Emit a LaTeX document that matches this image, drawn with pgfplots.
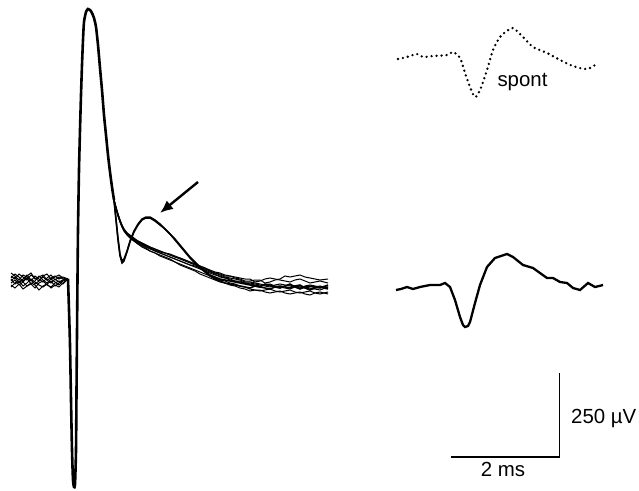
\documentclass[border=0pt]{standalone}
\usepackage{fontspec}
\setmainfont{Liberation Sans}
\usepackage{pgfplots}
\usepackage{pgfplotstable}
\pgfplotsset{compat=1.18}
\usetikzlibrary{arrows.meta}

% pixel-like coordinates, y grows downwards
\pgfplotstableread{
x  y1  y2  y3  y4  y5  y6  y7  y8
11 276 283 279 287 273 281 285 278
15 279 280 284 283 276 277 288 274
19 274 285 281 279 280 283 284 277
23 277 282 286 282 275 279 289 281
27 280 278 283 286 277 275 286 276
31 275 284 279 284 281 280 283 273
35 278 281 282 288 276 284 285 279
39 281 276 285 283 279 281 290 277
43 276 280 287 281 282 277 286 275
47 274 283 284 285 278 280 284 280
51 279 279 281 287 275 283 288 278
55 277 282 286 283 280 279 285 276
59 275 285 283 281 277 282 287 279
63 278 281 280 284 279 280 283 277
68 279 279 279 279 279 279 279 279
}\leftbase

\pgfplotstableread{
x   b1  b2  b3  b4  b5  b6  b7  a1  a2
114 200 200 201 199 200 201 200 200 200
116 208 207 209 208 208 209 207 220 219
118 215 214 216 215 216 215 214 240 238
120 221 220 222 221 222 221 220 256 254
122 226 225 227 226 227 226 225 263 261
124 230 229 231 230 231 230 229 261 259
127 234 233 235 233 235 234 233 252 251
130 237 236 238 236 238 237 235 242 241
134 240 239 241 239 241 240 238 232 231
138 243 242 244 241 244 242 241 225 224
142 245 244 246 243 247 244 243 220 219
146 247 246 248 245 249 246 245 218 217
150 249 248 251 247 251 248 247 218 217
155 251 250 253 249 253 251 249 221 220
160 253 252 255 251 256 253 251 225 224
165 255 253 257 253 258 255 253 229 229
170 257 255 259 255 260 257 254 234 234
175 259 257 262 257 262 259 256 240 239
180 261 259 264 258 265 261 258 246 245
185 263 261 266 260 267 263 260 252 251
190 265 263 268 262 269 265 262 258 257
195 267 265 270 264 271 266 264 263 262
200 269 267 272 266 274 268 266 268 267
205 271 269 274 268 276 270 268 272 271
210 273 271 276 271 278 272 270 276 275
215 275 273 278 273 280 274 272 279 277
220 276 274 280 275 282 277 273 281 279
225 278 276 281 277 283 278 275 283 280
230 280 276 283 278 285 279 276 284 281
235 281 278 284 279 286 281 277 285 282
240 282 279 286 280 288 281 278 286 283
245 283 281 287 282 289 283 279 287 284
250 283 281 289 282 291 284 279 288 285
255 284 280 290 283 290 285 282 286 286
260 285 280 291 284 290 286 281 287 287
265 286 283 290 285 292 285 279 288 284
270 287 282 289 286 293 284 278 289 285
275 285 280 291 287 292 286 279 287 287
280 284 279 292 288 291 287 280 286 288
285 285 276 291 286 293 288 281 287 286
290 286 277 290 285 294 289 282 288 284
295 287 276 292 286 293 287 280 286 287
300 288 275 293 287 292 286 279 285 289
305 286 277 292 288 294 287 281 288 287
310 285 278 291 289 295 288 283 290 286
315 286 279 293 287 293 289 282 288 287
320 287 280 294 286 292 290 281 287 288
328 286 279 292 288 294 287 283 289 285
}\tail

\begin{document}
\begin{tikzpicture}
\begin{axis}[
    scale only axis,
    width=639bp, height=491bp,
    xmin=0, xmax=639, ymin=0, ymax=491,
    y dir=reverse,
    axis lines=none,
    clip=false,
]
% evoked traces: noisy baseline before the spike
\foreach \c in {y1,y2,y3,y4,y5,y6,y7,y8} {
  \addplot[black, line width=1bp] table[x=x, y=\c] {\leftbase};
}
% spike, all sweeps superimposed
\addplot[black, line width=2.6bp, smooth, tension=0.4] coordinates {
  (68,279) (69,310) (70,345) (71,400) (72,450) (73,480) (74,487) (75,484)
  (76,450) (76.6,380) (77.3,300) (78,230) (79,170) (80,130) (81,95) (82,65)
  (83,40) (84,22) (86,12) (88,9) (90,10) (92,13) (94,18) (96,27) (98,45)
  (100,68) (102,90) (104,115) (106,135) (108,155) (110,172) (112,187) (114,200)
};
% decay and the late component
\foreach \c in {b1,b2,b3,b4,b5,b6,b7} {
  \addplot[black, line width=1bp] table[x=x, y=\c] {\tail};
}
\foreach \c in {a1,a2} {
  \addplot[black, line width=1.5bp] table[x=x, y=\c] {\tail};
}
% arrow
\addplot[black, line width=2.4bp, -{Latex[length=13bp, width=11bp]}] coordinates {(198,182) (160,213)};

% spontaneous spike (dotted)
\addplot[black, line width=2.6bp, line cap=round, dash pattern=on 0pt off 5bp, smooth] coordinates {
  (398,59) (407,57) (417,54) (423,57) (433,56) (447,55) (453,52) (460,58)
  (465,73) (470,87) (475,97) (480,90) (487,70) (493,50) (500,37) (507,31)
  (513,28) (523,37) (533,47) (547,53) (560,60) (573,66) (587,69) (598,63)
};
\node[anchor=west, font=\fontsize{20.5}{24}\selectfont] at (axis cs:494,82) {spont};

% averaged evoked spike
\addplot[black, line width=2.3bp] coordinates {
  (396,290) (401,289) (407,287) (413,289) (420,287) (430,285) (440,285)
  (445,283) (450,287) (455,300) (460,317) (463,325) (465,327) (468,326)
  (470,322) (475,303) (480,285) (487,267) (495,258) (501,256) (507,254)
  (513,257) (523,265) (533,268) (540,273) (547,278) (553,278) (560,282)
  (567,283) (573,288) (580,290) (588,283) (595,287) (603,285)
};

% scale bars
\addplot[black, line width=1.2bp] coordinates {(451,457) (559.3,457) (559.3,373)};
\node[font=\fontsize{20.5}{24}\selectfont] at (axis cs:503,469) {2 ms};
\node[anchor=west, font=\fontsize{20.5}{24}\selectfont, inner sep=0pt] at (axis cs:571,418) {250 µV};
\end{axis}
\path[use as bounding box] (current axis.south west) rectangle (current axis.north east);
\end{tikzpicture}
\end{document}
